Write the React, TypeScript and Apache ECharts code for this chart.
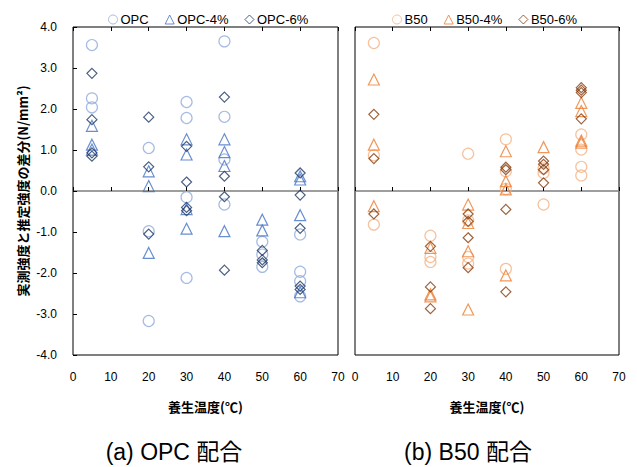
import React, { useEffect, useRef } from "react";
import * as echarts from "echarts";

// Curing temperature (°C) vs. difference between measured and estimated strength (N/mm²)
const opc: [number, number][] = [
  [5, 3.56], [5, 2.26], [5, 2.04],
  [20, 1.05], [20, -0.98], [20, -3.17],
  [30, 2.17], [30, 1.78], [30, -0.15], [30, -2.12],
  [40, 3.65], [40, 1.81], [40, 0.77], [40, -0.33],
  [50, -1.24], [50, -1.55], [50, -1.85],
  [60, -1.06], [60, -1.97], [60, -2.2], [60, -2.57],
];
const opc4: [number, number][] = [
  [5, 1.59], [5, 1.13], [5, 1.01],
  [20, 0.48], [20, 0.12], [20, -1.51],
  [30, 1.26], [30, 0.89], [30, -0.44], [30, -0.92],
  [40, 1.26], [40, 0.95], [40, 0.61], [40, -0.98],
  [50, -0.7], [50, -0.96],
  [60, 0.36], [60, 0.28], [60, -0.59], [60, -2.47],
];
const opc6: [number, number][] = [
  [5, 2.87], [5, 1.74], [5, 0.93], [5, 0.85],
  [20, 1.8], [20, 0.59], [20, -1.05],
  [30, 1.09], [30, 0.22], [30, -0.4], [30, -0.48],
  [40, 2.29], [40, 0.36], [40, -0.14], [40, -1.93],
  [50, -1.45], [50, -1.68], [50, -1.75],
  [60, 0.44], [60, -0.1], [60, -0.91], [60, -2.32], [60, -2.4],
];
const b50: [number, number][] = [
  [5, 3.61], [5, 0.87], [5, -0.82],
  [20, -1.09], [20, -1.61], [20, -1.73],
  [30, 0.91], [30, -0.72], [30, -1.61], [30, -1.77],
  [40, 1.26], [40, 0.48], [40, 0.05], [40, -1.9],
  [50, 0.55], [50, 0.44], [50, -0.33],
  [60, 1.38], [60, 1.01], [60, 0.59], [60, 0.38],
];
const b504: [number, number][] = [
  [5, 2.72], [5, 1.13], [5, -0.37],
  [20, -1.39], [20, -2.52], [20, -2.57],
  [30, -0.33], [30, -0.78], [30, -1.47], [30, -2.89],
  [40, 0.97], [40, 0.24], [40, 0.04], [40, -2.06],
  [50, 1.07],
  [60, 2.15], [60, 1.95], [60, 1.23], [60, 1.18],
];
const b506: [number, number][] = [
  [5, 1.87], [5, 0.79], [5, -0.56],
  [20, -1.35], [20, -2.34], [20, -2.87],
  [30, -0.56], [30, -0.74], [30, -1.14], [30, -1.87],
  [40, 0.58], [40, 0.52], [40, -0.45], [40, -2.46],
  [50, 0.73], [50, 0.65], [50, 0.52], [50, 0.2],
  [60, 2.52], [60, 2.46], [60, 2.4], [60, 1.76],
];

const LATIN = "'Liberation Sans', Arial, sans-serif";
const CJK = "'Noto Sans CJK JP', sans-serif";

const xLabelAxis = (grid: number, showName: boolean) => ({
  type: "value",
  gridIndex: grid,
  min: 0,
  max: 70,
  interval: 10,
  position: "bottom",
  axisLine: { show: false, onZero: false },
  axisTick: { show: false },
  splitLine: { show: false },
  axisLabel: { color: "#000", fontFamily: LATIN, fontSize: 12, margin: 16 },
  name: showName ? "養生温度(℃)" : "",
  nameLocation: "middle",
  nameGap: 45,
  nameTextStyle: { color: "#000", fontFamily: CJK, fontSize: 13, fontWeight: "bold" },
});

const zeroAxis = (grid: number, inside: boolean) => ({
  type: "value",
  gridIndex: grid,
  min: 0,
  max: 70,
  interval: 10,
  axisLine: { show: !inside, onZero: true, lineStyle: { color: "#7f7f7f", width: 1.5 } },
  axisTick: { show: true, inside, length: 4, lineStyle: { color: "#000", width: 1 } },
  axisLabel: { show: false },
  splitLine: { show: false },
});

const series = (
  name: string,
  data: [number, number][],
  idx: number,
  symbol: string,
  size: number,
  color: string
) => ({
  name,
  type: "scatter",
  xAxisIndex: idx * 3,
  yAxisIndex: idx,
  data,
  symbol,
  symbolSize: size,
  itemStyle: { color: "rgba(255,255,255,0)", borderColor: color, borderWidth: 1.2 },
});

const legendBase = {
  top: 8,
  itemWidth: 9,
  itemHeight: 9,
  itemGap: 16,
  itemStyle: { borderWidth: 1 },
  textStyle: { fontFamily: LATIN, fontSize: 13, color: "#000", padding: [0, 0, 0, -2] },
};

export default function App() {
  const ref = useRef<HTMLDivElement>(null);
  useEffect(() => {
    document.body.style.margin = "0";
    const chart = echarts.init(ref.current!, undefined, { renderer: "svg" });
    chart.setOption({
      animation: false,
      backgroundColor: "#fff",
      legend: [
        {
          ...legendBase,
          data: [
            { name: "OPC", icon: "circle" },
            { name: "OPC-4%", icon: "triangle" },
            { name: "OPC-6%", icon: "diamond" },
          ],
          left: 103,
        },
        {
          ...legendBase,
          data: [
            { name: "B50", icon: "circle" },
            { name: "B50-4%", icon: "triangle" },
            { name: "B50-6%", icon: "diamond" },
          ],
          left: 387,
        },
      ],
      grid: [
        { left: 73, right: 299, top: 27, bottom: 112, show: true, borderColor: "#000", borderWidth: 1, backgroundColor: "transparent" },
        { left: 355, right: 18, top: 27, bottom: 112, show: true, borderColor: "#000", borderWidth: 1, backgroundColor: "transparent" },
      ],
      xAxis: [
        xLabelAxis(0, true),
        zeroAxis(0, false),
        zeroAxis(0, true),
        xLabelAxis(1, true),
        zeroAxis(1, false),
        zeroAxis(1, true),
      ],
      yAxis: [
        {
          type: "value",
          gridIndex: 0,
          min: -4,
          max: 4,
          interval: 1,
          axisLine: { show: false },
          axisTick: { show: true, inside: true, length: 4, lineStyle: { color: "#000" } },
          splitLine: { show: false },
          axisLabel: {
            color: "#000",
            fontFamily: LATIN,
            fontSize: 12,
            margin: 16,
            formatter: (v: number) => v.toFixed(1),
          },
          name: "実測強度と推定強度の差分(N/mm²)",
          nameLocation: "middle",
          nameRotate: 90,
          nameGap: 44,
          nameTextStyle: { color: "#000", fontFamily: CJK, fontSize: 13, fontWeight: "bold" },
        },
        {
          type: "value",
          gridIndex: 1,
          min: -4,
          max: 4,
          interval: 1,
          axisLine: { show: false },
          axisTick: { show: false },
          axisLabel: { show: false },
          splitLine: { show: false },
        },
      ],
      series: [
        series("OPC", opc, 0, "circle", 11, "#8faadc"),
        series("OPC-4%", opc4, 0, "triangle", 11, "#4472c4"),
        series("OPC-6%", opc6, 0, "diamond", 10, "#1f3864"),
        series("B50", b50, 1, "circle", 11, "#f4b183"),
        series("B50-4%", b504, 1, "triangle", 11, "#ed7d31"),
        series("B50-6%", b506, 1, "diamond", 10, "#843c0c"),
      ],
      graphic: [
        {
          type: "text",
          x: 174,
          y: 452,
          style: { text: "(a) OPC 配合", font: `23px 'Liberation Sans', 'Noto Sans CJK JP', sans-serif`, fill: "#000", align: "center", verticalAlign: "middle" },
        },
        {
          type: "text",
          x: 468,
          y: 452,
          style: { text: "(b) B50 配合", font: `23px 'Liberation Sans', 'Noto Sans CJK JP', sans-serif`, fill: "#000", align: "center", verticalAlign: "middle" },
        },
      ],
    });
    return () => chart.dispose();
  }, []);
  return <div ref={ref} style={{ width: 637, height: 467 }} />;
}
